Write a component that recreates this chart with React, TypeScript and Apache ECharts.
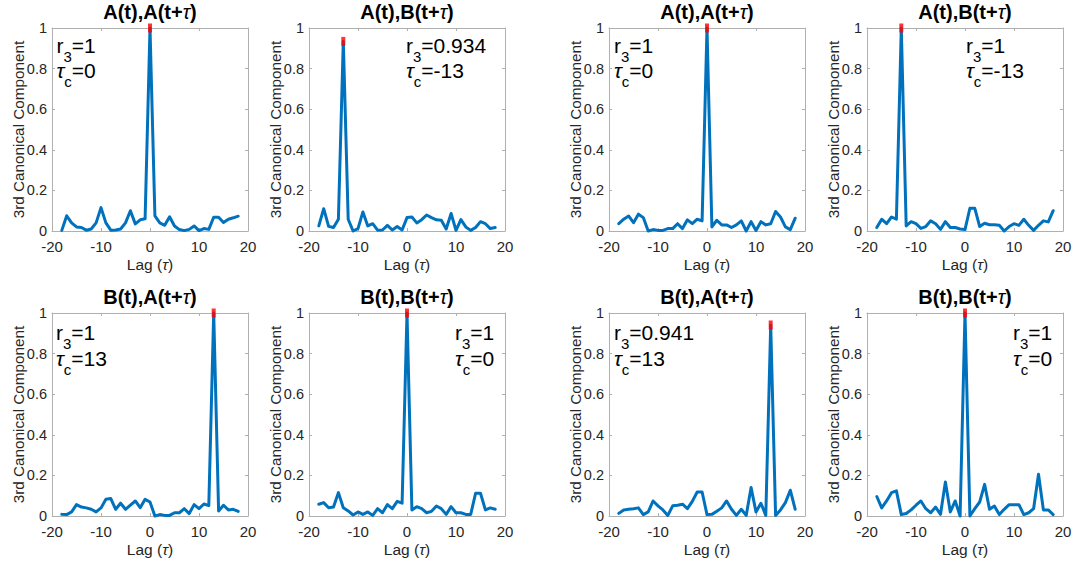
import React, { useEffect, useRef } from "react";
import * as echarts from "echarts";

const LAGS = [-18, -17, -16, -15, -14, -13, -12, -11, -10, -9, -8, -7, -6, -5, -4, -3, -2, -1, 0, 1, 2, 3, 4, 5, 6, 7, 8, 9, 10, 11, 12, 13, 14, 15, 16, 17, 18];
const X_TICKS = [-20, -10, 0, 10, 20];
const Y_TICKS = [0, 0.2, 0.4, 0.6, 0.8, 1];

const P1 = [0.003, 0.075, 0.04, 0.02, 0.017, 0.004, 0.01, 0.04, 0.115, 0.04, 0.004, 0.005, 0.01, 0.04, 0.1, 0.035, 0.055, 0.06, 1, 0.075, 0.04, 0.028, 0.07, 0.025, 0.007, 0.002, 0.008, 0.025, 0.002, 0.012, 0.008, 0.068, 0.068, 0.042, 0.058, 0.065, 0.073];
const P2 = [0.025, 0.11, 0.023, 0.017, 0.058, 0.934, 0.058, 0.0, 0.012, 0.094, 0.025, 0.036, 0.004, 0.005, 0.028, 0.005, 0.022, 0.005, 0.066, 0.069, 0.04, 0.056, 0.079, 0.066, 0.055, 0.053, 0.01, 0.086, 0.003, 0.056, 0.02, 0.003, 0.017, 0.046, 0.036, 0.012, 0.017];
const P3 = [0.036, 0.058, 0.074, 0.041, 0.083, 0.066, 0.0, 0.007, 0.003, 0.003, 0.012, 0.012, 0.036, 0.012, 0.055, 0.036, 0.058, 0.05, 1, 0.02, 0.053, 0.03, 0.03, 0.017, 0.03, 0.05, 0.0, 0.046, 0.003, 0.046, 0.03, 0.036, 0.096, 0.069, 0.02, 0.007, 0.063];
const P4 = [0.017, 0.058, 0.036, 0.069, 0.058, 1, 0.025, 0.046, 0.036, 0.013, 0.022, 0.05, 0.036, 0.008, 0.046, 0.017, 0.017, 0.01, 0.007, 0.112, 0.112, 0.022, 0.038, 0.031, 0.031, 0.028, 0.0, 0.022, 0.036, 0.028, 0.058, 0.028, 0.003, 0.028, 0.05, 0.045, 0.1];
const P5 = [0.008, 0.007, 0.02, 0.056, 0.044, 0.04, 0.033, 0.02, 0.04, 0.082, 0.086, 0.033, 0.063, 0.033, 0.054, 0.074, 0.041, 0.082, 0.069, 0.0, 0.007, 0.003, 0.003, 0.016, 0.016, 0.036, 0.012, 0.056, 0.036, 0.059, 0.051, 1, 0.025, 0.053, 0.03, 0.033, 0.023];
const P6 = [0.058, 0.066, 0.041, 0.044, 0.115, 0.041, 0.025, 0.005, 0.02, 0.008, 0.02, 0.003, 0.036, 0.016, 0.056, 0.036, 0.072, 0.063, 1, 0.03, 0.046, 0.036, 0.016, 0.023, 0.049, 0.036, 0.008, 0.046, 0.016, 0.016, 0.008, 0.008, 0.112, 0.112, 0.03, 0.04, 0.033];
const P7 = [0.013, 0.03, 0.033, 0.036, 0.04, 0.007, 0.02, 0.074, 0.05, 0.03, 0.003, 0.05, 0.053, 0.058, 0.036, 0.072, 0.118, 0.118, 0.007, 0.008, 0.023, 0.04, 0.074, 0.033, 0.003, 0.033, 0.003, 0.14, 0.02, 0.063, 0.003, 0.941, 0.003, 0.03, 0.066, 0.127, 0.033];
const P8 = [0.096, 0.04, 0.074, 0.115, 0.124, 0.007, 0.012, 0.03, 0.053, 0.074, 0.036, 0.016, 0.044, 0.008, 0.168, 0.02, 0.074, 0.0, 1, 0.0, 0.036, 0.069, 0.156, 0.033, 0.049, 0.007, 0.033, 0.056, 0.056, 0.056, 0.007, 0.016, 0.036, 0.206, 0.03, 0.03, 0.007];

const SERIES_VALUES = [P1, P2, P3, P4, P5, P6, P7, P8];
const TITLE_LEFT = ["A", "A", "A", "A", "B", "B", "B", "B"];
const TITLE_RIGHT = ["A", "B", "A", "B", "A", "B", "A", "B"];
const R3_LABELS = ["1", "0.934", "1", "1", "1", "1", "0.941", "1"];
const R3_VALUES = [1, 0.934, 1, 1, 1, 1, 0.941, 1];
const TAU_C = [0, -13, 0, -13, 13, 0, 13, 0];

// layout (pixels)
const COL_LEFT = [52, 309, 609, 867];
const ROW_TOP = [28, 313];
const W = 196;
const H = 203;
const ANNOT_X = [56.5, 406, 614, 966, 56, 455, 614, 1013];
const ANNOT_BASE = [52.5, 340];

const FONT = "'Liberation Sans', Arial, Helvetica, sans-serif";
const BLUE = "#0072BD";
const FRAME = "#b0b0b0";
const TXT = "#262626";

export default function App() {
  const ref = useRef<HTMLDivElement>(null);
  useEffect(() => {
    const chart = echarts.init(ref.current!, null, { renderer: "svg" });
    const grid: any[] = [];
    const xAxis: any[] = [];
    const yAxis: any[] = [];
    const series: any[] = [];
    const graphic: any[] = [];

    const axisLine = { show: true, onZero: false, lineStyle: { color: FRAME, width: 1 } };
    const axisTick = { show: true, inside: true, length: 3, lineStyle: { color: FRAME, width: 1 } };

    SERIES_VALUES.forEach((vals, i) => {
      const col = i % 4;
      const row = Math.floor(i / 4);
      const left = COL_LEFT[col];
      const top = ROW_TOP[row];
      grid.push({ left, top, width: W, height: H, show: false, containLabel: false });
      const xBase = { gridIndex: i, type: "value", min: X_TICKS[0], max: X_TICKS[X_TICKS.length - 1], interval: X_TICKS[1] - X_TICKS[0], axisLine, axisTick, splitLine: { show: false } };
      const yBase = { gridIndex: i, type: "value", min: Y_TICKS[0], max: Y_TICKS[Y_TICKS.length - 1], interval: Y_TICKS[1] - Y_TICKS[0], axisLine, axisTick, splitLine: { show: false } };
      xAxis.push({ ...xBase, position: "bottom", axisLabel: { show: true, color: TXT, fontSize: 15, lineHeight: 13, fontFamily: FONT, margin: 9 } });
      xAxis.push({ ...xBase, position: "top", axisLabel: { show: false } });
      yAxis.push({ ...yBase, position: "left", axisLabel: { show: true, color: TXT, fontSize: 14.5, lineHeight: 13, fontFamily: FONT, margin: 5 } });
      yAxis.push({ ...yBase, position: "right", axisLabel: { show: false } });

      series.push({
        type: "line",
        xAxisIndex: 2 * i,
        yAxisIndex: 2 * i,
        data: LAGS.map((l, k) => [l, vals[k]]),
        symbol: "none",
        showSymbol: false,
        clip: false,
        z: 2,
        lineStyle: { color: BLUE, width: 3, join: "round", cap: "round" },
      });
      series.push({
        type: "scatter",
        xAxisIndex: 2 * i,
        yAxisIndex: 2 * i,
        data: [[TAU_C[i], R3_VALUES[i]]],
        symbol: "rect",
        symbolSize: [4, 9],
        clip: false,
        z: 3,
        itemStyle: { color: "#ff0000" },
      });

      const cx = left + W / 2;
      // title
      graphic.push({
        type: "text",
        x: cx,
        y: top - 16,
        style: {
          text: `{b|${TITLE_LEFT[i]}(t),${TITLE_RIGHT[i]}(t+}{i|τ}{b|)}`,
          align: "center",
          verticalAlign: "middle",
          rich: {
            b: { fontSize: 20, fontWeight: "bold", fontFamily: FONT, fill: "#000" },
            i: { fontSize: 20, fontStyle: "italic", fontFamily: FONT, fill: "#000" },
          },
        },
      });
      // x axis name
      graphic.push({
        type: "text",
        x: cx,
        y: top + H + 33,
        style: {
          text: "{n|Lag (}{i|τ}{n|)}",
          align: "center",
          verticalAlign: "middle",
          rich: {
            n: { fontSize: 15.5, fontFamily: FONT, fill: TXT },
            i: { fontSize: 15.5, fontStyle: "italic", fontFamily: FONT, fill: TXT },
          },
        },
      });
      // y axis name
      graphic.push({
        type: "text",
        x: left - 34,
        y: top + H / 2,
        rotation: Math.PI / 2,
        style: {
          text: "3rd Canonical Component",
          align: "center",
          verticalAlign: "middle",
          fontSize: 15.3,
          fontFamily: FONT,
          fill: TXT,
        },
      });
      // annotation
      graphic.push({
        type: "text",
        x: ANNOT_X[i],
        y: ANNOT_BASE[row] - 17.8,
        z: 10,
        style: {
          text: `{m|r}{s|3}{m|=${R3_LABELS[i]}}\n{t|τ}{s|c}{m|=${TAU_C[i]}}`,
          align: "left",
          verticalAlign: "top",
          rich: {
            m: { fontSize: 21, lineHeight: 25.5, verticalAlign: "top", fontFamily: FONT, fill: "#000" },
            t: { fontSize: 21, lineHeight: 25.5, verticalAlign: "top", fontStyle: "italic", fontFamily: FONT, fill: "#000" },
            s: { fontSize: 15, lineHeight: 25.5, verticalAlign: "top", padding: [14, 0, 0, 0], fontFamily: FONT, fill: "#000" },
          },
        },
      });
    });

    chart.setOption({
      animation: false,
      backgroundColor: "#ffffff",
      grid,
      xAxis,
      yAxis,
      series,
      graphic,
    });
    return () => chart.dispose();
  }, []);
  return <div ref={ref} style={{ position: "fixed", left: 0, top: 0, width: 1081, height: 561 }} />;
}
